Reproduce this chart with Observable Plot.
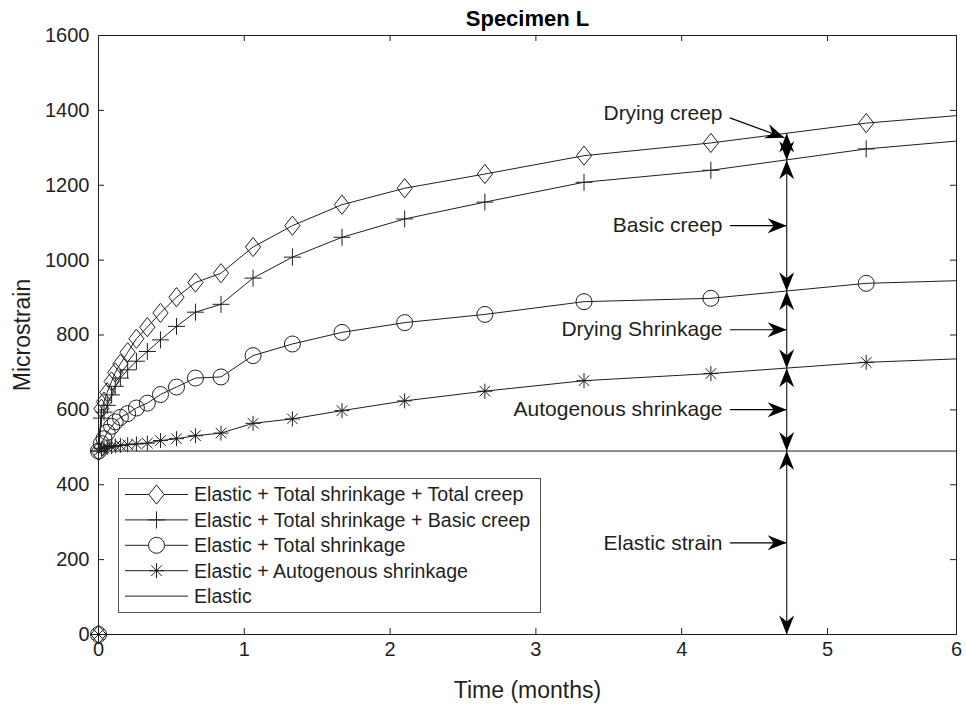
<!DOCTYPE html>
<html>
<head>
<meta charset="utf-8">
<script src="https://cdn.jsdelivr.net/npm/d3@7"></script>
<script src="https://cdn.jsdelivr.net/npm/@observablehq/plot@0.6"></script>
<style>
  body { margin: 0; background: #fff; }
  #chart svg { display: block; }
</style>
</head>
<body>
<div id="chart"></div>
<script>
// Measurement times (months) shared by all strain series; the last one lies past the 6-month axis end
const months = [0, 0, 0.02, 0.038, 0.06, 0.09, 0.115, 0.15, 0.2, 0.26, 0.335, 0.425, 0.535, 0.665,
                0.84, 1.06, 1.33, 1.67, 2.1, 2.65, 3.33, 4.2, 5.3, 6.6];
// Strain series (microstrain)
const totalCreep      = [0, 490, 603, 622, 647, 676, 700, 723, 754, 790, 821, 859, 901, 940,
                         965, 1035, 1092, 1148, 1192, 1230, 1279, 1313, 1366, 1403];
const basicCreep      = [0, 490, 578, 594, 612, 640, 663, 685, 707, 730, 756, 787, 823, 861,
                         882, 952, 1008, 1061, 1110, 1155, 1208, 1240, 1297, 1336];
const totalShrinkage  = [0, 490, 510, 523, 540, 556, 568, 580, 590, 605, 618, 641, 661, 685,
                         688, 745, 776, 807, 833, 855, 889, 898, 938, 951];
const autogenous      = [0, 490, 496, 498, 500, 502, 504, 505, 507, 509, 511, 518, 523, 531,
                         538, 564, 576, 598, 624, 650, 678, 697, 727, 744];
const elasticMonths   = [0, 0, 6.6];
const elasticValues   = [0, 490, 490];

const seriesNames = [
  "Elastic + Total shrinkage + Total creep",
  "Elastic + Total shrinkage + Basic creep",
  "Elastic + Total shrinkage",
  "Elastic + Autogenous shrinkage",
  "Elastic"
];

const xTicks = [0, 1, 2, 3, 4, 5, 6];
const yTicks = [0, 200, 400, 600, 800, 1000, 1200, 1400, 1600];

// Component breakdown drawn at one age
const breakdownMonth = 4.72;
const componentLabels = ["Elastic strain", "Autogenous shrinkage", "Drying Shrinkage", "Basic creep"];
const dryingCreepLabel = {text: "Drying creep", month: 4.28, value: 1391};
const dryingCreepArrow = {month1: 4.33, value1: 1380, month2: 4.705, value2: 1327};
const labelArrowLength = 0.385; // months

// ---- layout ----
const W = 966, H = 706;
const mL = 98, mR = 10, mT = 35, mB = 72;
const innerW = W - mL - mR, innerH = H - mT - mB;
const xBreaks = [0, 5, 6];
const xPixels = [mL, 827, W - mR];
const font = "'Liberation Sans', Arial, Helvetica, sans-serif";
const ink = "#1f1f1f";

// ---- marker shapes (stroked) ----
const radiusOf = size => Math.sqrt(size / Math.PI);
const diamondMark = {draw(ctx, size) {
  const r = radiusOf(size);
  ctx.moveTo(0, -1.2 * r); ctx.lineTo(0.95 * r, 0); ctx.lineTo(0, 1.2 * r); ctx.lineTo(-0.95 * r, 0); ctx.closePath();
}};
const plusMark = {draw(ctx, size) {
  const r = radiusOf(size);
  ctx.moveTo(-r, 0); ctx.lineTo(r, 0); ctx.moveTo(0, -r); ctx.lineTo(0, r);
}};
const starMark = {draw(ctx, size) {
  const r = radiusOf(size), d = r * Math.SQRT1_2;
  ctx.moveTo(-r, 0); ctx.lineTo(r, 0); ctx.moveTo(0, -r); ctx.lineTo(0, r);
  ctx.moveTo(-d, -d); ctx.lineTo(d, d); ctx.moveTo(-d, d); ctx.lineTo(d, -d);
}};
const circleMark = {draw(ctx, size) {
  const r = radiusOf(size);
  ctx.moveTo(r, 0); ctx.arc(0, 0, r, 0, 2 * Math.PI);
}};

// Filled swept-back arrowhead; tip at the origin, pointing at `angle` degrees clockwise from up
function arrowHead(angle) {
  const a = angle * Math.PI / 180, c = Math.cos(a), s = Math.sin(a);
  const pts = [[0, 0], [7.5, 19], [0, 13], [-7.5, 19]].map(([x, y]) => [x * c - y * s, x * s + y * c]);
  return {draw(ctx) {
    ctx.moveTo(pts[0][0], pts[0][1]);
    for (let i = 1; i < pts.length; ++i) ctx.lineTo(pts[i][0], pts[i][1]);
    ctx.closePath();
  }};
}

// ---- data tables ----
const seriesDefs = [
  {values: totalCreep, symbol: diamondMark, r: 8},
  {values: basicCreep, symbol: plusMark, r: 8.5},
  {values: totalShrinkage, symbol: circleMark, r: 8},
  {values: autogenous, symbol: starMark, r: 7.5}
];
const tables = seriesDefs.map(s => months.map((m, i) => ({month: m, value: s.values[i]})));
const elasticTable = elasticMonths.map((m, i) => ({month: m, value: elasticValues[i]}));

function valueAt(values, t) {
  for (let i = 1; i < months.length - 1; ++i) {
    const t0 = months[i], t1 = months[i + 1];
    if (t1 > t0 && t >= t0 && t <= t1) return values[i] + (values[i + 1] - values[i]) * (t - t0) / (t1 - t0);
  }
  return NaN;
}

// Levels where the component arrows start and end
const levels = [0, elasticValues[1], valueAt(autogenous, breakdownMonth), valueAt(totalShrinkage, breakdownMonth),
                valueAt(basicCreep, breakdownMonth), valueAt(totalCreep, breakdownMonth)];
const headsUp = [], headsDown = [];
for (let k = 0; k < levels.length - 1; ++k) {
  headsDown.push({month: breakdownMonth, value: levels[k]});
  headsUp.push({month: breakdownMonth, value: levels[k + 1]});
}
const labelArrows = componentLabels.map((text, k) => ({
  text,
  start: breakdownMonth - labelArrowLength,
  tip: breakdownMonth,
  value: (levels[k] + levels[k + 1]) / 2
}));

// Pixel scales, for the direction of the slanted pointer
const px = d3.scaleLinear(xBreaks, xPixels);
const py = d3.scaleLinear([0, 1600], [H - mB, mT]);
const slant = Math.atan2(px(dryingCreepArrow.month2) - px(dryingCreepArrow.month1),
                         -(py(dryingCreepArrow.value2) - py(dryingCreepArrow.value1))) * 180 / Math.PI;

const seriesMarks = [];
tables.forEach((tbl, i) => {
  seriesMarks.push(Plot.line(tbl, {x: "month", y: "value", stroke: ink, strokeWidth: 1, clip: true}));
  seriesMarks.push(Plot.dot(tbl.filter(d => d.month <= 6), {
    x: "month", y: "value", symbol: seriesDefs[i].symbol, r: seriesDefs[i].r,
    fill: "none", stroke: ink, strokeWidth: 1
  }));
});

const plot = Plot.plot({
  width: W, height: H,
  marginLeft: mL, marginRight: mR, marginTop: mT, marginBottom: mB,
  x: {type: "linear", domain: xBreaks, range: xPixels},
  y: {type: "linear", domain: [0, 1600]},
  style: {fontFamily: font, color: ink, background: "#fff", overflow: "visible"},
  marks: [
    // inward ticks on all four sides
    Plot.ruleX(xTicks, {x: d => d, insetTop: innerH - 6, stroke: ink}),
    Plot.ruleX(xTicks, {x: d => d, insetBottom: innerH - 6, stroke: ink}),
    Plot.ruleY(yTicks, {y: d => d, insetRight: innerW - 6, stroke: ink}),
    Plot.ruleY(yTicks, {y: d => d, insetLeft: innerW - 6, stroke: ink}),
    Plot.axisX({ticks: xTicks, tickSize: 0, tickPadding: 7, tickFormat: "d", label: null, fontSize: 20}),
    Plot.axisY({ticks: yTicks, tickSize: 0, tickPadding: 9, tickFormat: "d", label: null, fontSize: 20}),
    Plot.text(["Time (months)"], {frameAnchor: "bottom", lineAnchor: "middle", dy: 56, fontSize: 23, fill: ink}),
    Plot.text(["Microstrain"], {frameAnchor: "left", textAnchor: "middle", lineAnchor: "middle", dx: -76, rotate: -90, fontSize: 23, fill: ink}),
    Plot.text(["Specimen L"], {frameAnchor: "top", lineAnchor: "middle", dy: -17, fontSize: 22, fontWeight: "bold", fill: "#000"}),

    Plot.line(elasticTable, {x: "month", y: "value", stroke: ink, strokeWidth: 1, clip: true}),
    ...seriesMarks,

    // component breakdown
    Plot.ruleX([breakdownMonth], {x: d => d, y1: 0, y2: levels[levels.length - 1], stroke: "#333", strokeWidth: 1.3}),
    Plot.dot(headsUp, {x: "month", y: "value", symbol: arrowHead(0), r: 5, fill: "#000", stroke: "none"}),
    Plot.dot(headsDown, {x: "month", y: "value", symbol: arrowHead(180), r: 5, fill: "#000", stroke: "none"}),
    Plot.ruleY(labelArrows, {y: "value", x1: "start", x2: "tip", stroke: "#000", strokeWidth: 1.2}),
    Plot.dot(labelArrows, {x: "tip", y: "value", symbol: arrowHead(90), r: 5, fill: "#000", stroke: "none"}),
    Plot.text(labelArrows, {x: "start", y: "value", text: "text", textAnchor: "end", dx: -8, fontSize: 21, fill: ink}),
    Plot.link([dryingCreepArrow], {x1: "month1", y1: "value1", x2: "month2", y2: "value2", stroke: "#000", strokeWidth: 1.2}),
    Plot.dot([dryingCreepArrow], {x: "month2", y: "value2", symbol: arrowHead(slant), r: 5, fill: "#000", stroke: "none"}),
    Plot.text([dryingCreepLabel], {x: "month", y: "value", text: "text", textAnchor: "end", fontSize: 21, fill: ink}),

    Plot.frame({stroke: ink, strokeWidth: 1})
  ]
});

document.getElementById("chart").append(plot);

// ---- legend box ----
const svg = d3.select(plot);
const lg = svg.append("g").attr("font-family", font).attr("font-size", 19.6)
  .attr("fill", ink).attr("text-anchor", "start");
const box = {x: 118.5, y: 478.5, w: 422, h: 134};
lg.append("rect").attr("x", box.x).attr("y", box.y).attr("width", box.w).attr("height", box.h)
  .attr("fill", "#fff").attr("stroke", "#555").attr("stroke-width", 1);
const rowY = i => box.y + 16 + i * 25.4;
const legendSymbols = [...seriesDefs, null];
seriesNames.forEach((name, i) => {
  const y = rowY(i);
  lg.append("line").attr("x1", 125).attr("x2", 188).attr("y1", y).attr("y2", y)
    .attr("stroke", ink).attr("stroke-width", 1);
  const s = legendSymbols[i];
  if (s) {
    lg.append("path").attr("transform", `translate(156.5,${y})`)
      .attr("d", d3.symbol(s.symbol, Math.PI * s.r * s.r)())
      .attr("fill", "#fff").attr("stroke", ink).attr("stroke-width", 1);
  }
  lg.append("text").attr("x", 194).attr("y", y).attr("dy", "0.35em").text(name);
});
</script>
</body>
</html>
